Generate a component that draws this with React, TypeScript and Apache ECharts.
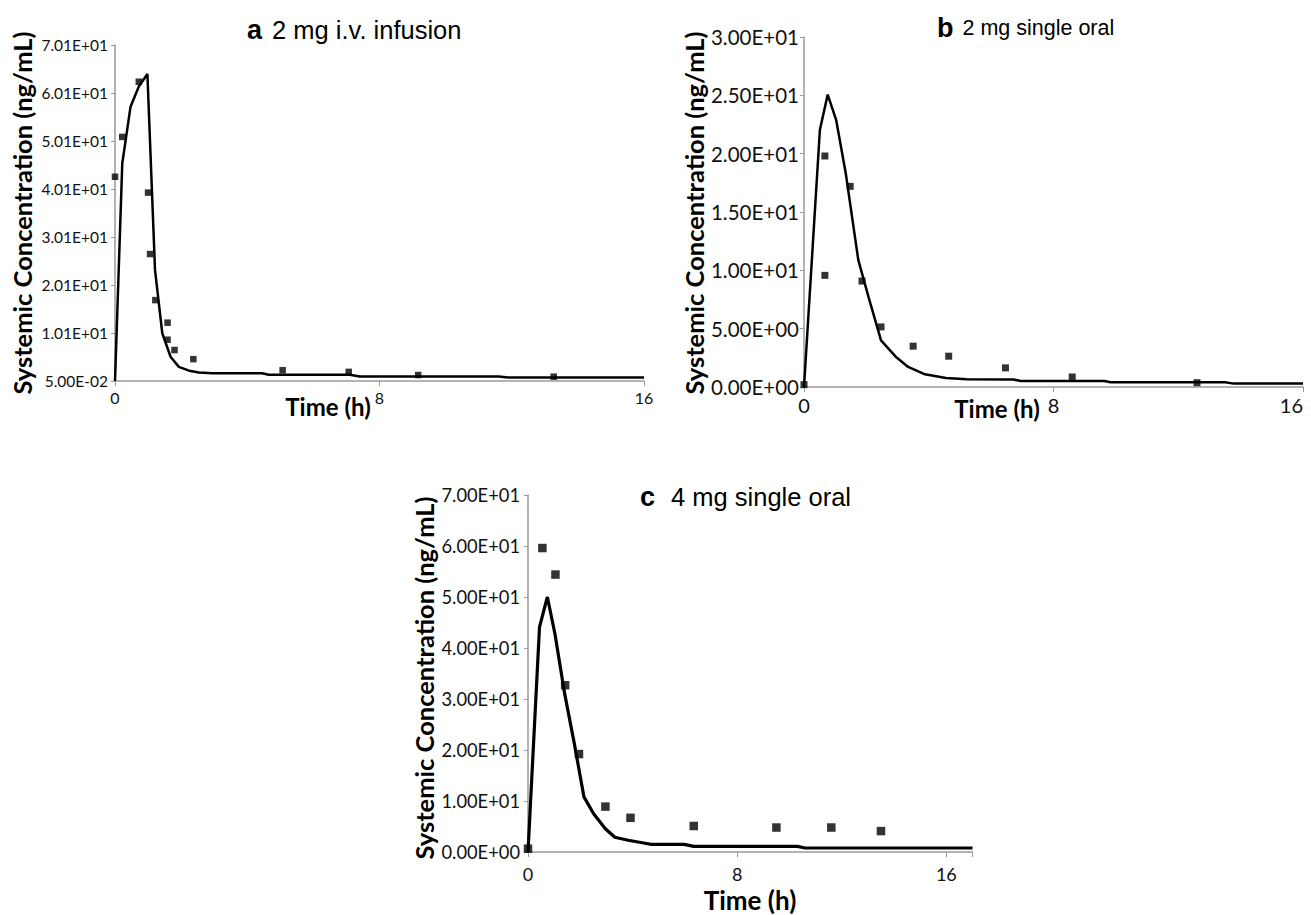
import React, { useEffect, useRef } from "react";
import * as echarts from "echarts";

// ---------- Panel a : 2 mg i.v. infusion ----------
const obsTimeA = [0, 0.22, 0.72, 1.0, 1.06, 1.22, 1.59, 1.59, 1.8, 2.37, 5.07, 7.07, 9.17, 13.27];
const obsConcA = [42.6, 50.9, 62.4, 39.3, 26.5, 16.9, 12.2, 8.65, 6.5, 4.6, 2.3, 1.95, 1.3, 0.95];
const simTimeA = [0, 0.22, 0.47, 0.72, 0.98, 1.21, 1.43, 1.68, 1.93, 2.24, 2.54, 2.94, 4.45, 4.65, 7.1, 7.4, 11.6, 11.9, 16];
const simConcA = [0.05, 45.4, 57.2, 61.4, 64.0, 23.2, 10.0, 5.1, 3.0, 2.2, 1.8, 1.65, 1.65, 1.35, 1.35, 1.0, 1.0, 0.8, 0.8];
const yLabelsA = ["5.00E-02", "1.01E+01", "2.01E+01", "3.01E+01", "4.01E+01", "5.01E+01", "6.01E+01", "7.01E+01"];

// ---------- Panel b : 2 mg single oral ----------
const obsTimeB = [0, 0.67, 0.67, 1.48, 1.86, 2.47, 3.5, 4.64, 6.46, 8.6, 12.6];
const obsConcB = [0.2, 19.8, 9.57, 17.2, 9.08, 5.15, 3.5, 2.64, 1.64, 0.86, 0.37];
const simTimeB = [0, 0.51, 0.76, 1.03, 1.34, 1.74, 2.07, 2.47, 2.94, 3.34, 3.88, 4.55, 5.22, 6.7, 6.95, 9.63, 9.83, 13.5, 13.78, 16];
const simConcB = [0, 22.05, 25.06, 22.9, 18.3, 10.9, 7.7, 4.0, 2.6, 1.72, 1.09, 0.78, 0.66, 0.65, 0.52, 0.52, 0.4, 0.4, 0.29, 0.29];
const yLabelsB = ["0.00E+00", "5.00E+00", "1.00E+01", "1.50E+01", "2.00E+01", "2.50E+01", "3.00E+01"];

// ---------- Panel c : 4 mg single oral ----------
const obsTimeC = [0, 0.55, 1.05, 1.42, 1.95, 2.96, 3.92, 6.34, 9.5, 11.6, 13.5];
const obsConcC = [0.65, 59.6, 54.4, 32.7, 19.2, 8.9, 6.7, 5.1, 4.8, 4.8, 4.1];
const simTimeC = [0, 0.44, 0.74, 1.03, 1.4, 1.77, 2.14, 2.51, 2.95, 3.32, 3.83, 4.42, 4.72, 5.97, 6.34, 10.3, 10.6, 17];
const simConcC = [0, 44.1, 50.0, 42.8, 31.1, 21.3, 10.8, 7.5, 4.6, 2.9, 2.3, 1.77, 1.5, 1.5, 1.1, 1.1, 0.78, 0.78];
const yLabelsC = ["0.00E+00", "1.00E+01", "2.00E+01", "3.00E+01", "4.00E+01", "5.00E+01", "6.00E+01", "7.00E+01"];

const xTickLabels: Record<string, string> = { "0": "0", "8": "8", "16": "16" };

const titles = [
  { letter: "a", text: "2 mg i.v. infusion" },
  { letter: "b", text: "2 mg single oral" },
  { letter: "c", text: "4 mg single oral" },
];
const yTitle = "Systemic Concentration (ng/mL)";
const xTitle = "Time (h)";

const zip = (t: number[], v: number[]) => t.map((x, i) => [x, v[i]]);

const TICK_FONT = "Lato, 'Liberation Sans', sans-serif";
const TITLE_FONT = "'Liberation Sans', Arial, sans-serif";
const BOLD_FONT = "Lato, 'Open Sans', sans-serif";
const AXIS_GRAY = "#9a9a9a";

function xAxisCfg(gridIndex: number, max: number, fontSize: number, margin: number, alignRight = false) {
  return {
    type: "value",
    gridIndex,
    min: 0,
    max,
    interval: 8,
    splitLine: { show: false },
    axisLine: { show: true, onZero: false, lineStyle: { color: AXIS_GRAY, width: 1.5 } },
    axisTick: { show: true, length: 5, lineStyle: { color: AXIS_GRAY } },
    axisLabel: {
      color: "#111",
      fontFamily: TICK_FONT,
      fontSize,
      margin,
      alignMaxLabel: alignRight ? "right" : undefined,
      formatter: (v: number) => xTickLabels[String(v)] ?? "",
    },
  };
}

function yAxisCfg(
  gridIndex: number,
  min: number,
  max: number,
  interval: number,
  labels: string[],
  fontSize: number,
  margin: number
) {
  return {
    type: "value",
    gridIndex,
    min,
    max,
    interval,
    splitLine: { show: false },
    axisLine: { show: true, onZero: false, lineStyle: { color: AXIS_GRAY, width: 1.5 } },
    axisTick: { show: true, length: 4, lineStyle: { color: AXIS_GRAY } },
    axisLabel: {
      color: "#111",
      fontFamily: TICK_FONT,
      fontSize,
      margin,
      formatter: (v: number) => labels[Math.round((v - min) / interval)] ?? "",
    },
  };
}

function titleText(x: number, y: number, idx: number, letterSize: number, textSize: number, gap: number) {
  return {
    type: "text",
    x,
    y,
    style: {
      text: `{l|${titles[idx].letter}}{t|${titles[idx].text}}`,
      verticalAlign: "middle",
      align: "left",
      rich: {
        l: { fontFamily: TITLE_FONT, fontWeight: "bold", fontSize: letterSize, fill: "#000", padding: [0, gap, 0, 0] },
        t: { fontFamily: TITLE_FONT, fontSize: textSize, fill: "#000" },
      },
    },
  };
}

function yTitleText(x: number, y: number) {
  return {
    type: "text",
    x,
    y,
    rotation: Math.PI / 2,
    style: {
      text: yTitle,
      align: "center",
      verticalAlign: "middle",
      fontFamily: BOLD_FONT,
      fontWeight: "bold",
      fontSize: 25.5,
      fill: "#000",
    },
  };
}

function xTitleText(x: number, y: number, size: number) {
  return {
    type: "text",
    x,
    y,
    style: {
      text: xTitle,
      align: "center",
      verticalAlign: "middle",
      fontFamily: BOLD_FONT,
      fontWeight: "bold",
      fontSize: size,
      fill: "#000",
    },
  };
}

export default function App() {
  const ref = useRef<HTMLDivElement>(null);
  useEffect(() => {
    if (!ref.current) return;
    const chart = echarts.init(ref.current, null, { renderer: "svg" });
    const lineSeries = (i: number, data: number[][], w: number) => ({
      type: "line",
      xAxisIndex: i,
      yAxisIndex: i,
      data,
      showSymbol: false,
      symbol: "none",
      lineStyle: { color: "#000", width: w },
      z: 3,
    });
    const obsSeries = (i: number, data: number[][], size: number) => ({
      type: "scatter",
      xAxisIndex: i,
      yAxisIndex: i,
      data,
      symbol: "rect",
      symbolSize: size,
      itemStyle: { color: "#000" },
      z: 4,
    });
    chart.setOption({
      animation: false,
      backgroundColor: "#fff",
      grid: [
        { left: 115, top: 45, width: 529, height: 336, outerBoundsMode: "none" },
        { left: 804, top: 37, width: 499, height: 350, outerBoundsMode: "none" },
        { left: 528, top: 495, width: 444.5, height: 357, outerBoundsMode: "none" },
      ],
      xAxis: [xAxisCfg(0, 16, 16, 8), xAxisCfg(1, 16, 20, 8, true), xAxisCfg(2, 17, 18, 13)],
      yAxis: [
        yAxisCfg(0, 0.05, 70.05, 10, yLabelsA, 15.5, 7),
        yAxisCfg(1, 0, 30, 5, yLabelsB, 20.5, 5),
        yAxisCfg(2, 0, 70, 10, yLabelsC, 18.3, 8),
      ],
      series: [
        lineSeries(0, zip(simTimeA, simConcA), 2.5),
        obsSeries(0, zip(obsTimeA, obsConcA), 6.5),
        lineSeries(1, zip(simTimeB, simConcB), 2.5),
        obsSeries(1, zip(obsTimeB, obsConcB), 7),
        lineSeries(2, zip(simTimeC, simConcC), 3.2),
        obsSeries(2, zip(obsTimeC, obsConcC), 8.5),
      ],
      graphic: [
        titleText(247, 30, 0, 27, 25.5, 10),
        titleText(937, 28, 1, 27, 21.5, 9),
        titleText(640, 497, 2, 27, 25.5, 16),
        yTitleText(22, 213),
        yTitleText(694, 213),
        yTitleText(424, 678),
        xTitleText(328, 406, 24),
        xTitleText(997, 408, 24),
        xTitleText(750, 900, 26),
      ],
    });
    return () => chart.dispose();
  }, []);
  return (
    <div
      ref={ref}
      style={{ position: "absolute", left: 0, top: 0, width: 1311, height: 915, background: "#fff" }}
    />
  );
}
